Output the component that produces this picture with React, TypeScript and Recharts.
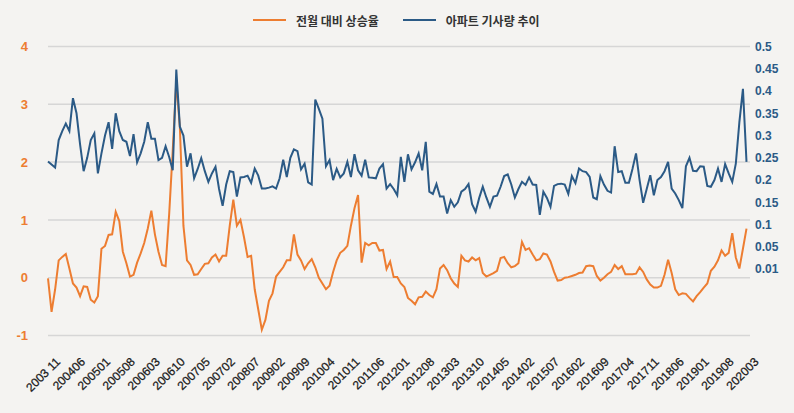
import React from "react";
import {
  LineChart, Line, XAxis, YAxis, CartesianGrid, Legend
} from "recharts";

// monthly categories, 2003-11 .. 2020-03
const START_YEAR = 2003;
const START_MONTH = 11;
const MONTH_COUNT = 197;
const MONTHS: string[] = [];
for (let i = 0; i < MONTH_COUNT; i++) {
  const m = START_MONTH - 1 + i;
  const y = START_YEAR + Math.floor(m / 12);
  MONTHS.push(`${y}${String((m % 12) + 1).padStart(2, "0")}`);
}

// labels as printed under the axis (every 7th month)
const TICK_LABELS = [
  "2003 11", "200406", "200501", "200508", "200603", "200610", "200705",
  "200702", "200807", "200902", "200909", "201004", "201011", "201106",
  "201201", "201208", "201303", "201310", "201405", "201402", "201507",
  "201602", "201609", "201704", "201711", "201806", "201901", "201908",
  "202003",
];

// 전월 대비 상승율 (left axis)
const RATE = [
  -0.01, -0.59, -0.2, 0.3, 0.36, 0.41, 0.16, -0.1, -0.17, -0.32,
  -0.15, -0.16, -0.38, -0.43, -0.32, 0.5, 0.55, 0.74, 0.75, 1.14,
  0.98, 0.45, 0.25, 0.02, 0.05, 0.26, 0.42, 0.6, 0.85, 1.16,
  0.75, 0.45, 0.22, 0.2, 1.1, 2.2, 3.4, 2.6, 0.9, 0.3,
  0.22, 0.05, 0.06, 0.15, 0.24, 0.25, 0.35, 0.4, 0.28, 0.38,
  0.38, 0.9, 1.35, 0.9, 1.0, 0.7, 0.36, 0.38, -0.2, -0.55,
  -0.9, -0.73, -0.4, -0.27, 0.02, 0.1, 0.18, 0.3, 0.3, 0.75,
  0.4, 0.3, 0.15, 0.25, 0.32, 0.18, 0.0, -0.1, -0.2, -0.14,
  0.1, 0.3, 0.43, 0.48, 0.55, 0.9, 1.2, 1.43, 0.26, 0.6,
  0.56, 0.6, 0.6, 0.47, 0.48, 0.15, 0.28, 0.01, 0.01, -0.1,
  -0.16, -0.35, -0.4, -0.46, -0.34, -0.33, -0.24, -0.3, -0.34, -0.2,
  0.16, 0.22, 0.13, -0.01, -0.1, -0.16, 0.38, 0.3, 0.28, 0.35,
  0.3, 0.34, 0.08, 0.02, 0.05, 0.08, 0.12, 0.34, 0.36, 0.25,
  0.18, 0.2, 0.25, 0.62, 0.48, 0.51, 0.4, 0.3, 0.32, 0.42,
  0.4, 0.28, 0.1, -0.05, -0.04, 0.0, 0.01, 0.03, 0.05, 0.08,
  0.09, 0.2, 0.21, 0.2, 0.03, -0.05, 0.0, 0.06, 0.1, 0.22,
  0.15, 0.2, 0.06, 0.06, 0.06, 0.07, 0.18, 0.1, -0.03, -0.12,
  -0.17, -0.17, -0.14, 0.05, 0.31, 0.08, -0.2, -0.3, -0.27, -0.28,
  -0.35, -0.41, -0.32, -0.25, -0.17, -0.1, 0.12, 0.19, 0.3, 0.47,
  0.38, 0.43, 0.77, 0.35, 0.16, 0.5, 0.85,
];

// 아파트 기사량 추이 (right axis)
const ARTICLES = [
  0.242, 0.235, 0.228, 0.29, 0.31, 0.327, 0.31, 0.384, 0.35, 0.28,
  0.22, 0.25, 0.29, 0.305, 0.215, 0.26, 0.3, 0.33, 0.27, 0.35,
  0.31, 0.29, 0.286, 0.254, 0.303, 0.24, 0.26, 0.286, 0.33, 0.293,
  0.293, 0.245, 0.25, 0.276, 0.252, 0.222, 0.448, 0.32, 0.3, 0.23,
  0.26, 0.204, 0.225, 0.249, 0.22, 0.196, 0.215, 0.23, 0.18, 0.142,
  0.19, 0.22, 0.218, 0.163, 0.206, 0.207, 0.21, 0.194, 0.226, 0.21,
  0.181, 0.181, 0.183, 0.186, 0.181, 0.204, 0.246, 0.207, 0.25, 0.269,
  0.265, 0.224, 0.237, 0.195, 0.19, 0.381, 0.36, 0.338, 0.231, 0.245,
  0.2, 0.225, 0.206, 0.215, 0.241, 0.207, 0.258, 0.222, 0.21, 0.246,
  0.206, 0.205, 0.204, 0.226, 0.236, 0.181, 0.191, 0.18, 0.166, 0.252,
  0.196, 0.258, 0.224, 0.24, 0.26, 0.222, 0.286, 0.174, 0.169, 0.191,
  0.163, 0.163, 0.125, 0.155, 0.14, 0.15, 0.174, 0.18, 0.191, 0.146,
  0.129, 0.16, 0.185, 0.161, 0.14, 0.163, 0.165, 0.185, 0.209, 0.213,
  0.19, 0.161, 0.18, 0.196, 0.189, 0.206, 0.19, 0.189, 0.122, 0.174,
  0.16, 0.14, 0.187, 0.191, 0.192, 0.19, 0.169, 0.209, 0.193, 0.226,
  0.22, 0.218, 0.207, 0.161, 0.157, 0.209, 0.19, 0.176, 0.172, 0.276,
  0.218, 0.22, 0.194, 0.194, 0.225, 0.26, 0.2, 0.149, 0.18, 0.211,
  0.166, 0.2, 0.207, 0.22, 0.241, 0.181, 0.17, 0.155, 0.137, 0.231,
  0.25, 0.221, 0.22, 0.231, 0.23, 0.187, 0.185, 0.2, 0.226, 0.196,
  0.236, 0.215, 0.196, 0.237, 0.33, 0.405, 0.241,
];

const LEFT_TICKS = [-1, 0, 1, 2, 3, 4];
const RIGHT_TICKS = [0, 0.05, 0.1, 0.15, 0.2, 0.25, 0.3, 0.35, 0.4, 0.45, 0.5];
const RIGHT_TICK_LABELS = ["0.01", "0.05", "0.1", "0.15", "0.2", "0.25", "0.3", "0.35", "0.4", "0.45", "0.5"];

const ORANGE = "#ed7d31";
const BLUE = "#2b5a86";
const FONT = "'Liberation Sans', Arial, sans-serif";

const data = MONTHS.map((month, i) => ({
  month,
  rate: RATE[i],
  articles: ARTICLES[i],
}));

function XTick(props: any) {
  const { x, y, payload } = props;
  const idx = MONTHS.indexOf(payload.value);
  const label = TICK_LABELS[Math.round(idx / 7)] ?? payload.value;
  return (
    <g transform={`translate(${x + 13},${y + 27})`}>
      <text
        textAnchor="end"
        transform="rotate(-45)"
        fontSize={12}
        fontFamily={FONT}
        fill="#1a1a1a"
        stroke="#1a1a1a"
        strokeWidth={0.25}
      >
        {label}
      </text>
    </g>
  );
}

function LegendBox() {
  const item = (color: string, text: string, gap: number) => (
    <div style={{ display: "flex", alignItems: "center", marginRight: gap }}>
      <span style={{ display: "inline-block", width: 33, height: 2.5, background: color, marginRight: 10 }} />
      <span style={{ fontFamily: "'Noto Sans CJK KR', sans-serif", fontWeight: 700, fontSize: 12, color: "#333" }}>
        {text}
      </span>
    </div>
  );
  return (
    <div style={{ display: "flex", alignItems: "center", height: 24, paddingLeft: 253 }}>
      {item(ORANGE, "전월 대비 상승율", 24)}
      {item(BLUE, "아파트 기사량 추이", 0)}
    </div>
  );
}

export default function App() {
  return (
    <div style={{ position: "absolute", left: 0, top: 0, width: 794, height: 413, background: "#f4f3f1" }}>
      <LineChart width={794} height={413} data={data} margin={{ top: 46.5, right: 0, bottom: 0, left: 0 }}>
        <CartesianGrid yAxisId="left" vertical={false} stroke="#d6d6d6" strokeWidth={1.5} />
        <XAxis
          dataKey="month"
          interval={6}
          height={77.5}
          axisLine={false}
          tickLine={false}
          tickSize={0}
          tickMargin={0}
          padding={{ left: 0, right: 3.5 }}
          tick={(p: any) => <XTick {...p} />}
        />
        <YAxis
          yAxisId="left"
          orientation="left"
          width={48}
          domain={[-1, 4]}
          ticks={LEFT_TICKS}
          axisLine={false}
          tickLine={false}
          tickSize={0}
          tickMargin={20}
          tick={{ fill: ORANGE, fontSize: 13, fontWeight: 700, fontFamily: FONT }}
        />
        <YAxis
          yAxisId="right"
          orientation="right"
          width={44}
          domain={[-0.149, 0.5]}
          ticks={RIGHT_TICKS}
          axisLine={false}
          tickLine={false}
          tickSize={0}
          tickMargin={5}
          tickFormatter={(v: number) => RIGHT_TICK_LABELS[RIGHT_TICKS.indexOf(v)] ?? String(v)}
          tick={{ fill: BLUE, fontSize: 12, fontWeight: 700, fontFamily: FONT }}
        />
        <Legend
          verticalAlign="middle"
          align="center"
          layout="horizontal"
          wrapperStyle={{ top: 8, left: 0, width: 794 }}
          content={() => <LegendBox />}
        />
        <Line
          yAxisId="left"
          type="linear"
          dataKey="rate"
          name="전월 대비 상승율"
          stroke={ORANGE}
          strokeWidth={2}
          dot={false}
          isAnimationActive={false}
        />
        <Line
          yAxisId="right"
          type="linear"
          dataKey="articles"
          name="아파트 기사량 추이"
          stroke={BLUE}
          strokeWidth={2}
          dot={false}
          isAnimationActive={false}
        />
      </LineChart>
    </div>
  );
}
